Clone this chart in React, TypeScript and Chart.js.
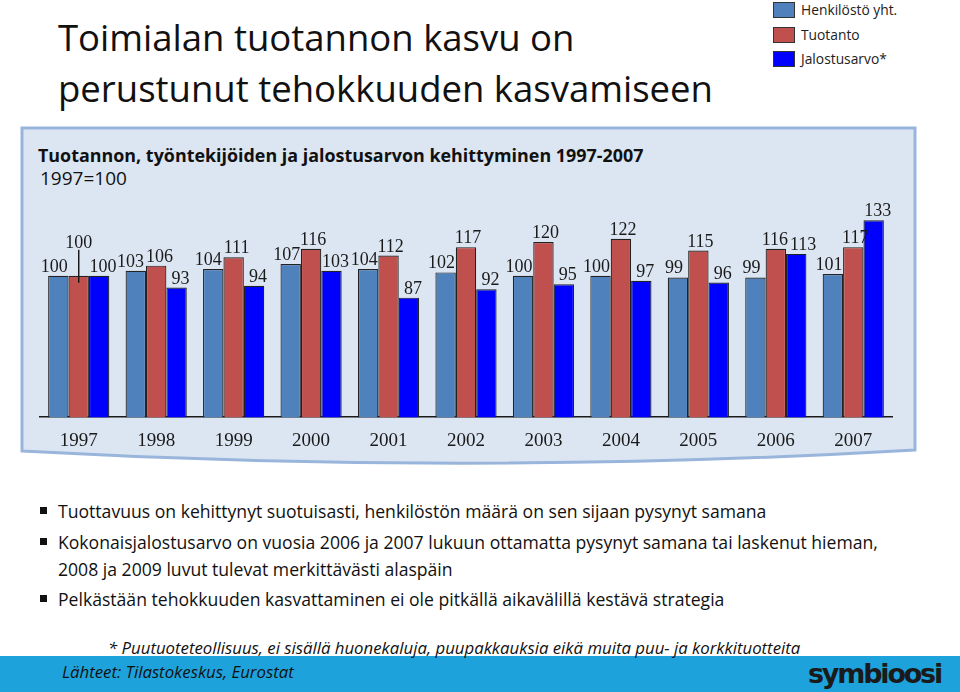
import React, { useEffect, useRef } from 'react';
import { Chart, registerables } from 'chart.js';

Chart.register(...registerables);

const years = ['1997', '1998', '1999', '2000', '2001', '2002', '2003', '2004', '2005', '2006', '2007'];
const henkilosto = [100, 103, 104, 107, 104, 102, 100, 100, 99, 99, 101];
const tuotanto = [100, 106, 111, 116, 112, 117, 120, 122, 115, 116, 117];
const jalostusarvo = [100, 93, 94, 103, 87, 92, 95, 97, 96, 113, 133];
const seriesNames = ['Henkilöstö yht.', 'Tuotanto', 'Jalostusarvo*'];
const seriesColors = ['#4f81bd', '#c0504d', '#0000ff'];

const titleLines = ['Toimialan tuotannon kasvu on', 'perustunut tehokkuuden kasvamiseen'];
const chartTitle = 'Tuotannon, työntekijöiden ja jalostusarvon kehittyminen 1997-2007';
const baseNote = '1997=100';
const bullets = [
  ['Tuottavuus on kehittynyt suotuisasti, henkilöstön määrä on sen sijaan pysynyt samana'],
  [
    'Kokonaisjalostusarvo on vuosia 2006 ja 2007 lukuun ottamatta pysynyt samana tai laskenut hieman,',
    '2008 ja 2009 luvut tulevat merkittävästi alaspäin',
  ],
  ['Pelkästään tehokkuuden kasvattaminen ei ole pitkällä aikavälillä kestävä strategia'],
];
const footnote = 'Puutuoteteollisuus, ei sisällä huonekaluja, puupakkauksia eikä muita puu- ja korkkituotteita';
const sources = 'Lähteet: Tilastokeskus, Eurostat';
const logoText = 'symbioosi';

const seriesValues = [henkilosto, tuotanto, jalostusarvo];

const labelPlugin = {
  id: 'barValueLabels',
  afterDatasetsDraw(chart: any) {
    const ctx = chart.ctx;
    ctx.save();
    ctx.font = '18px "Liberation Serif", "Times New Roman", serif';
    ctx.fillStyle = '#1a1a1a';
    ctx.strokeStyle = '#1a1a1a';
    ctx.textAlign = 'center';
    ctx.textBaseline = 'alphabetic';
    const shifts = [-4, 2, 4];
    const n = chart.data.labels.length;
    const dsCount = chart.data.datasets.length;
    for (let i = 0; i < n; i++) {
      const items: any[] = [];
      for (let di = 0; di < dsCount; di++) {
        const ds = chart.data.datasets[di];
        const bar = chart.getDatasetMeta(di).data[i];
        const v = ds.data[i];
        const text = String(v);
        const w = ctx.measureText(text).width;
        let x = bar.x + shifts[di];
        let y = bar.y - 4;
        let leader = false;
        if (
          di === 1 &&
          v === chart.data.datasets[0].data[i] &&
          v === chart.data.datasets[2].data[i]
        ) {
          x = bar.x;
          y = bar.y - 28;
          leader = true;
        }
        items.push({ text, w, x, y, leader, bar });
      }
      for (let k = 0; k < items.length - 1; k++) {
        const a = items[k];
        const b = items[k + 1];
        if (Math.abs(a.y - b.y) < 13) {
          const overlap = (a.x + a.w / 2 + 2) - (b.x - b.w / 2);
          if (overlap > 0) {
            a.x -= overlap / 2;
            b.x += overlap / 2;
          }
        }
      }
      items.forEach((it) => {
        if (it.leader) {
          ctx.lineWidth = 1.5;
          ctx.beginPath();
          ctx.moveTo(it.bar.x, it.y + 2);
          ctx.lineTo(it.bar.x, it.bar.y + 7);
          ctx.stroke();
        }
        ctx.fillText(it.text, it.x, it.y);
      });
    }
    ctx.restore();
  },
};

function BarChart() {
  const ref = useRef<HTMLCanvasElement | null>(null);
  useEffect(() => {
    if (!ref.current) return;
    const chart = new Chart(ref.current, {
      type: 'bar',
      data: {
        labels: years,
        datasets: seriesValues.map((vals, i) => ({
          label: seriesNames[i],
          data: vals,
          backgroundColor: seriesColors[i],
          borderColor: '#222222',
          borderWidth: 1.2,
          categoryPercentage: 0.79,
          barPercentage: 1,
        })),
      },
      options: {
        animation: false,
        responsive: false,
        devicePixelRatio: 1,
        layout: { padding: { left: 40, right: 68, top: 20, bottom: 0 } },
        plugins: { legend: { display: false }, tooltip: { enabled: false } },
        scales: {
          x: {
            grid: { display: false, drawTicks: false },
            border: { display: true, color: '#1a1a1a', width: 1.5 },
            ticks: {
              font: { family: '"Liberation Serif", "Times New Roman", serif', size: 19 },
              color: '#1a1a1a',
              padding: 12,
            },
          },
          y: { display: false, min: 16, max: 145 },
        },
      },
      plugins: [labelPlugin],
    });
    return () => chart.destroy();
  }, []);
  return (
    <canvas
      ref={ref}
      width={960}
      height={284}
      style={{ position: 'absolute', left: 0, top: 180, width: 960, height: 284 }}
    />
  );
}

const sans = '"Open Sans", "Noto Sans", sans-serif';

export default function App() {
  const bulletTops = [[511], [542, 569], [599]];
  return (
    <div
      style={{
        position: 'absolute',
        left: 0,
        top: 0,
        width: 960,
        height: 692,
        overflow: 'hidden',
        background: '#ffffff',
        fontFamily: sans,
        color: '#111',
      }}
    >
      {titleLines.map((t, i) => (
        <div
          key={i}
          style={{
            position: 'absolute',
            left: 58,
            top: 37 + i * 51 - 25,
            height: 50,
            lineHeight: '50px',
            fontSize: 36.5,
            whiteSpace: 'nowrap',
            color: '#111',
          }}
        >
          {t}
        </div>
      ))}

      {seriesNames.map((n, i) => (
        <div key={n} style={{ position: 'absolute', left: 773, top: 2 + i * 24.5, height: 16 }}>
          <div
            style={{
              position: 'absolute',
              left: 0,
              top: 0,
              width: 20,
              height: 14,
              background: seriesColors[i],
              border: '1.5px solid #333',
            }}
          />
          <div
            style={{
              position: 'absolute',
              left: 28,
              top: -1,
              lineHeight: '18px',
              fontSize: 13.8,
              whiteSpace: 'nowrap',
              color: '#222',
            }}
          >
            {n}
          </div>
        </div>
      ))}

      <svg width={960} height={692} style={{ position: 'absolute', left: 0, top: 0 }}>
        <path
          d="M22,128 L915,128 L915,450 Q470,476 22,451 Z"
          fill="#dce6f2"
          stroke="#99b5dc"
          strokeWidth={3}
        />
      </svg>

      <div
        style={{
          position: 'absolute',
          left: 38,
          top: 142,
          lineHeight: '26px',
          fontSize: 17.9,
          fontWeight: 700,
          whiteSpace: 'nowrap',
        }}
      >
        {chartTitle}
      </div>
      <div
        style={{
          position: 'absolute',
          left: 40,
          top: 164,
          lineHeight: '28px',
          fontSize: 19,
          whiteSpace: 'nowrap',
        }}
      >
        {baseNote}
      </div>

      <BarChart />

      {bullets.map((lines, bi) =>
        lines.map((line, li) => (
          <React.Fragment key={bi + '-' + li}>
            {li === 0 && (
              <div
                style={{
                  position: 'absolute',
                  left: 40,
                  top: bulletTops[bi][li] - 4,
                  width: 7,
                  height: 7,
                  background: '#111',
                }}
              />
            )}
            <div
              style={{
                position: 'absolute',
                left: 58,
                top: bulletTops[bi][li] - 14,
                lineHeight: '28px',
                fontSize: 17.6,
                whiteSpace: 'nowrap',
                color: '#111',
              }}
            >
              {line}
            </div>
          </React.Fragment>
        ))
      )}

      <div
        style={{
          position: 'absolute',
          left: 0,
          top: 656,
          width: 960,
          height: 36,
          background: '#1ea2dc',
        }}
      />
      <div
        style={{
          position: 'absolute',
          left: 108,
          top: 635,
          lineHeight: '26px',
          fontSize: 16.8,
          fontStyle: 'italic',
          whiteSpace: 'nowrap',
          color: '#111',
        }}
      >
        {'*  ' + footnote}
      </div>
      <div
        style={{
          position: 'absolute',
          left: 62,
          top: 659,
          lineHeight: '26px',
          fontSize: 16.8,
          fontStyle: 'italic',
          whiteSpace: 'nowrap',
          color: '#111',
        }}
      >
        {sources}
      </div>
      <div
        style={{
          position: 'absolute',
          left: 808,
          top: 658,
          lineHeight: '32px',
          fontSize: 27,
          fontWeight: 900,
          fontFamily: '"DejaVu Sans", sans-serif',
          letterSpacing: -2.2,
          whiteSpace: 'nowrap',
          color: '#1a1a1a',
        }}
      >
        {logoText}
      </div>
    </div>
  );
}
